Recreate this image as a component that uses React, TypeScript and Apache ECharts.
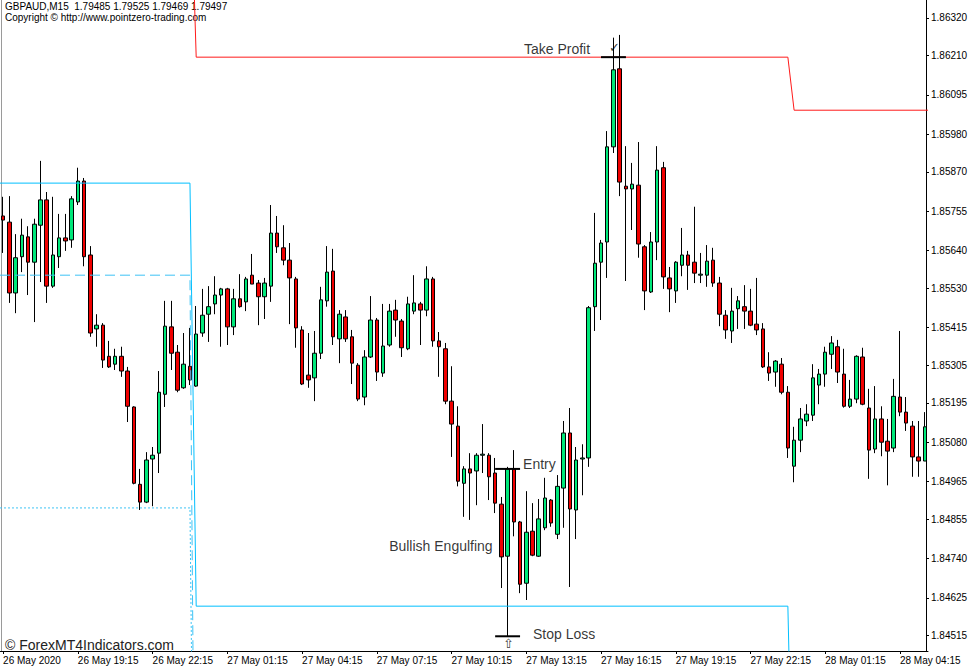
import React, { useEffect, useRef } from "react";
import * as echarts from "echarts";

// ---------- texts ----------
const symbolLine = "GBPAUD,M15  1.79485 1.79525 1.79469 1.79497";
const copyrightLine = "Copyright \u00a9 http://www.pointzero-trading.com";
const watermark = "\u00a9 ForexMT4Indicators.com";

// ---------- x axis tick labels (one every 12 bars of M15) ----------
const timeLabels = [
  "26 May 2020", "26 May 19:15", "26 May 22:15", "27 May 01:15", "27 May 04:15",
  "27 May 07:15", "27 May 10:15", "27 May 13:15", "27 May 16:15", "27 May 19:15",
  "27 May 22:15", "28 May 01:15", "28 May 04:15",
];
const barsPerLabel = 12;

// ---------- y axis tick labels ----------
const yTickLabels = [
  "1.86320", "1.86210", "1.86095", "1.85980", "1.85870", "1.85755", "1.85640", "1.85530",
  "1.85415", "1.85305", "1.85195", "1.85080", "1.84965", "1.84855", "1.84740", "1.84625", "1.84515",
];

// ---------- OHLC ----------
const opens = [
  1.85741, 1.85723, 1.85516, 1.85622, 1.8568, 1.85606, 1.85714, 1.85788, 1.85536, 1.85622,
  1.85677, 1.85671, 1.85782, 1.85843, 1.85627, 1.85411, 1.85422, 1.85331, 1.85308, 1.85331,
  1.85288, 1.85183, 1.84957, 1.84905, 1.85031, 1.85048, 1.8522, 1.85417, 1.85343, 1.85239,
  1.85302, 1.85244, 1.85399, 1.85454, 1.85484, 1.8551, 1.85528, 1.85417, 1.85499, 1.8549,
  1.85568, 1.85545, 1.85505, 1.85536, 1.85691, 1.85648, 1.85612, 1.85557, 1.85408, 1.85276,
  1.85268, 1.8534, 1.85493, 1.8558, 1.85382, 1.85446, 1.85388, 1.85305, 1.85212, 1.85329,
  1.85437, 1.85282, 1.85364, 1.85466, 1.85434, 1.85353, 1.85463, 1.85484, 1.85466, 1.85557,
  1.85376, 1.85353, 1.852, 1.85127, 1.8496, 1.85002, 1.84996, 1.85042, 1.85042, 1.8499,
  1.84899, 1.84747, 1.85002, 1.84847, 1.84668, 1.8482, 1.84747, 1.8483, 1.84911, 1.84811,
  1.84946, 1.85107, 1.84882, 1.85031, 1.85034, 1.85476, 1.85606, 1.85665, 1.85943, 1.86171,
  1.85828, 1.8582, 1.85831, 1.85651, 1.85519, 1.85665, 1.85882, 1.8556, 1.85522, 1.85597,
  1.85627, 1.85606, 1.85568, 1.85568, 1.85612, 1.85545, 1.85451, 1.85405, 1.8547, 1.85476,
  1.85463, 1.85425, 1.85411, 1.853, 1.85285, 1.85308, 1.85226, 1.8501, 1.85086, 1.85142,
  1.85159, 1.85247, 1.85279, 1.85337, 1.85359, 1.85279, 1.85185, 1.85206, 1.85329, 1.8518,
  1.8506, 1.85148, 1.85083, 1.85063, 1.85212, 1.85168, 1.85127, 1.85037, 1.85025,
];
const highs = [
  1.85797, 1.85799, 1.85688, 1.85733, 1.85711, 1.85733, 1.85902, 1.85811, 1.85797, 1.85747,
  1.85747, 1.85799, 1.85882, 1.85852, 1.85653, 1.85454, 1.85428, 1.85376, 1.85353, 1.85359,
  1.853, 1.85185, 1.85002, 1.85051, 1.85066, 1.85288, 1.85493, 1.85493, 1.85364, 1.85399,
  1.85414, 1.85478, 1.85528, 1.85536, 1.85565, 1.85531, 1.85531, 1.85528, 1.85571, 1.85563,
  1.8563, 1.85554, 1.8556, 1.85773, 1.85741, 1.85714, 1.85662, 1.85563, 1.85419, 1.85399,
  1.85405, 1.85534, 1.85653, 1.85645, 1.85466, 1.85466, 1.85408, 1.85311, 1.85349, 1.85507,
  1.85443, 1.85484, 1.85484, 1.85496, 1.8544, 1.85505, 1.85568, 1.8549, 1.85594, 1.85563,
  1.85402, 1.8537, 1.85302, 1.85185, 1.8501, 1.85048, 1.85048, 1.85133, 1.85048, 1.85034,
  1.8492, 1.85008, 1.85057, 1.8485, 1.84937, 1.84902, 1.84914, 1.84976, 1.84914, 1.84984,
  1.85142, 1.8518, 1.85066, 1.85074, 1.85478, 1.8575, 1.85671, 1.85989, 1.86262, 1.8627,
  1.85945, 1.85896, 1.85957, 1.85656, 1.85694, 1.85945, 1.85899, 1.85592, 1.85609, 1.85706,
  1.85639, 1.85768, 1.85633, 1.85656, 1.85648, 1.85563, 1.85466, 1.85531, 1.85507, 1.85539,
  1.85528, 1.8556, 1.85428, 1.85343, 1.8532, 1.85326, 1.85244, 1.85125, 1.8518, 1.85191,
  1.85308, 1.85294, 1.85359, 1.8539, 1.85379, 1.85353, 1.85262, 1.85334, 1.85356, 1.85236,
  1.85244, 1.85185, 1.85148, 1.85265, 1.85405, 1.85212, 1.85142, 1.85142, 1.85168,
];
const lows = [
  1.85633, 1.85487, 1.85457, 1.85577, 1.8551, 1.85431, 1.85548, 1.85487, 1.85531, 1.85589,
  1.85639, 1.85648, 1.85773, 1.85594, 1.85388, 1.85359, 1.85297, 1.85297, 1.85291, 1.85271,
  1.85139, 1.84957, 1.84882, 1.84902, 1.84893, 1.8499, 1.85183, 1.85291, 1.85226, 1.85236,
  1.85247, 1.85242, 1.85388, 1.85373, 1.85454, 1.85359, 1.85364, 1.85393, 1.85473, 1.85463,
  1.85542, 1.85422, 1.8544, 1.8549, 1.85633, 1.85597, 1.85425, 1.85356, 1.85247, 1.85239,
  1.852, 1.85323, 1.85476, 1.85364, 1.85311, 1.85373, 1.8525, 1.852, 1.85188, 1.85326,
  1.85259, 1.85271, 1.85359, 1.85388, 1.85329, 1.85349, 1.85454, 1.85364, 1.85448, 1.85359,
  1.85271, 1.85191, 1.85037, 1.84951, 1.84862, 1.84853, 1.84896, 1.8499, 1.84911, 1.84873,
  1.84654, 1.84513, 1.84805, 1.84639, 1.84619, 1.84747, 1.84745, 1.84823, 1.84833, 1.84797,
  1.8483, 1.84657, 1.84797, 1.84925, 1.85008, 1.85405, 1.85437, 1.8556, 1.85925, 1.85799,
  1.85551, 1.857, 1.85619, 1.85466, 1.85516, 1.85612, 1.85528, 1.8546, 1.85487, 1.85565,
  1.85525, 1.85545, 1.85545, 1.85534, 1.85534, 1.85419, 1.85382, 1.8537, 1.85411, 1.85411,
  1.85419, 1.85393, 1.85297, 1.85259, 1.85242, 1.8522, 1.85034, 1.84963, 1.85051, 1.85127,
  1.85142, 1.85191, 1.85242, 1.85294, 1.85253, 1.85181, 1.8518, 1.85194, 1.85188, 1.84973,
  1.85048, 1.85039, 1.84954, 1.85051, 1.85156, 1.85113, 1.84979, 1.84979, 1.85025,
];
const closes = [
  1.85729, 1.85516, 1.85619, 1.85685, 1.85606, 1.85717, 1.85788, 1.85536, 1.85627, 1.85677,
  1.85668, 1.85791, 1.85843, 1.85622, 1.85399, 1.85422, 1.8532, 1.853, 1.85331, 1.85288,
  1.85185, 1.8496, 1.84905, 1.85028, 1.85042, 1.85226, 1.85419, 1.8534, 1.85232, 1.85308,
  1.85262, 1.85396, 1.85451, 1.85476, 1.8551, 1.85528, 1.85417, 1.85499, 1.85476, 1.85557,
  1.85542, 1.85505, 1.85545, 1.85691, 1.85651, 1.85612, 1.8556, 1.85414, 1.8525, 1.85262,
  1.8534, 1.85496, 1.85577, 1.85388, 1.85454, 1.85382, 1.85311, 1.85206, 1.85329, 1.85437,
  1.85285, 1.85361, 1.85463, 1.85437, 1.85356, 1.85484, 1.85487, 1.85466, 1.85557, 1.85376,
  1.85359, 1.852, 1.85133, 1.84966, 1.85002, 1.8499, 1.85042, 1.85045, 1.84979, 1.84902,
  1.84745, 1.85002, 1.84847, 1.84665, 1.84817, 1.8475, 1.84856, 1.84917, 1.84844, 1.84951,
  1.85107, 1.84885, 1.85028, 1.85034, 1.85473, 1.85603, 1.85662, 1.85943, 1.86168, 1.8584,
  1.8582, 1.85834, 1.85659, 1.85522, 1.85665, 1.85875, 1.85563, 1.85528, 1.85606, 1.85627,
  1.85597, 1.85574, 1.85571, 1.85609, 1.85545, 1.85454, 1.85408, 1.85463, 1.85493, 1.85463,
  1.85422, 1.85408, 1.853, 1.85282, 1.85317, 1.85226, 1.85063, 1.85086, 1.85148, 1.85162,
  1.85268, 1.85279, 1.85343, 1.8537, 1.85285, 1.85185, 1.85206, 1.85331, 1.85191, 1.85057,
  1.85148, 1.8508, 1.85054, 1.85214, 1.85168, 1.85136, 1.85037, 1.85025, 1.85125,
];

// ---------- indicator levels: [bar index, price] ----------
const blueSolid = [[-0.5, 1.85837], [30, 1.85837], [31, 1.84601], [126, 1.84601], [127, 1.838]];
const blueDashed = [[-0.5, 1.85568], [30, 1.85568], [31, 1.833]];
const blueDotted = [[-0.5, 1.84888], [30, 1.84888], [31, 1.8317]];
const redTakeProfit = [[30, 1.868], [31, 1.86205], [126, 1.86205], [127, 1.8605], [148.5, 1.8605]];

// trade markers: [startBar, endBar, price]
const tpBar = [96, 100, 1.86205];
const entryBar = [79, 83, 1.85002];
const slBar = [79, 83, 1.84513];

// annotation texts anchored at [bar index, price]
const noteTexts = ["Take Profit", "Entry", "Bullish Engulfing", "Stop Loss"];
const noteBars = [83.55, 83.4, 61.9, 85.0];
const notePrices = [1.86229, 1.85016, 1.84777, 1.84519];
const markTexts = ["\u2713", "\u21e7"];
const markBars = [98, 81];
const markPrices = [1.86232, 1.84493];

const FONT = "'Liberation Sans', Arial, sans-serif";

export default function App() {
  const ref = useRef<HTMLDivElement>(null);

  useEffect(() => {
    if (!ref.current) return;
    const chart = echarts.init(ref.current, null, { renderer: "svg" });

    const n = opens.length;
    const categories = opens.map((_, i) => String(i));
    const candleData = opens.map((o, i) => [o, closes[i], lows[i], highs[i]]);
    const yTicks = yTickLabels.map((s) => parseFloat(s));

    const levelLine = (data: number[][], color: string, type: any, width = 1, z = 4) => ({
      type: "line",
      xAxisIndex: 1,
      yAxisIndex: 0,
      data,
      showSymbol: false,
      symbol: "none",
      clip: true,
      silent: true,
      z,
      lineStyle: { color, width, type },
    });

    const barLine = (b: number[]) =>
      levelLine([[b[0], b[2]], [b[1], b[2]]], "#000", "solid", 2, 6);

    const noteData = noteTexts.map((t, i) => ({
      value: [noteBars[i], notePrices[i]],
      name: t,
      label: { position: "right", distance: 0, fontSize: 14, fontFamily: FONT, color: "#000" },
    }));
    const markData = markTexts.map((t, i) => ({
      value: [markBars[i], markPrices[i]],
      name: t,
      label: {
        position: "right",
        distance: 0,
        offset: [-5, 0],
        fontSize: 13,
        fontFamily: "'DejaVu Sans', sans-serif",
        color: "#000",
      },
    }));

    const option: any = {
      animation: false,
      backgroundColor: "#fff",
      grid: {
        left: 0,
        top: 0,
        width: 928,
        height: 651,
        containLabel: false,
        outerBoundsMode: "none",
      },
      xAxis: [
        {
          type: "category",
          data: categories,
          boundaryGap: true,
          axisLine: { show: true, lineStyle: { color: "#000", width: 1 } },
          axisTick: { show: true, interval: barsPerLabel - 1, alignWithLabel: true, length: 3, lineStyle: { color: "#000" } },
          axisLabel: {
            interval: barsPerLabel - 1,
            align: "left",
            margin: 4,
            color: "#000",
            fontSize: 10,
            fontFamily: FONT,
            formatter: (_v: string, idx: number) =>
              idx % barsPerLabel === 0 ? timeLabels[idx / barsPerLabel] || "" : "",
          },
          splitLine: { show: false },
        },
        {
          type: "value",
          min: -0.5,
          max: n - 0.5,
          show: false,
        },
      ],
      yAxis: {
        type: "value",
        position: "right",
        min: 1.8447,
        max: 1.86372,
        offset: -2,
        axisLine: { show: true, onZero: false, lineStyle: { color: "#000", width: 1 } },
        axisTick: { show: true, length: 3, customValues: yTicks, lineStyle: { color: "#000" } },
        axisLabel: {
          customValues: yTicks,
          formatter: (v: number) => v.toFixed(5),
          color: "#000",
          fontSize: 10,
          fontFamily: FONT,
          margin: 5,
        },
        splitLine: { show: false },
      },
      series: [
        {
          type: "candlestick",
          xAxisIndex: 0,
          yAxisIndex: 0,
          data: candleData,
          barWidth: 4,
          z: 3,
          itemStyle: {
            color: "#00E87A",
            color0: "#F00000",
            borderColor: "#000",
            borderColor0: "#000",
            borderWidth: 1,
          },
        },
        levelLine(blueSolid, "#00BFFF", "solid"),
        levelLine(blueDashed, "#3DC3F5", [10, 5]),
        levelLine(blueDotted, "#3DC3F5", [2, 2]),
        levelLine(redTakeProfit, "#FF1A1A", "solid"),
        barLine(tpBar),
        barLine(entryBar),
        barLine(slBar),
        {
          type: "scatter",
          xAxisIndex: 1,
          yAxisIndex: 0,
          symbolSize: 1,
          silent: true,
          z: 7,
          itemStyle: { color: "rgba(0,0,0,0)" },
          label: { show: true, color: "#000", formatter: (p: any) => p.name },
          data: [...noteData, ...markData],
        },
      ],
      graphic: [
        {
          type: "line",
          shape: { x1: 1.5, y1: 0, x2: 1.5, y2: 651 },
          style: { stroke: "#9a9a9a", lineWidth: 1 },
          silent: true,
        },
        {
          type: "text",
          left: 5,
          top: 1,
          style: { text: symbolLine, fontSize: 10, fontFamily: FONT, fill: "#000" },
          silent: true,
        },
        {
          type: "text",
          left: 5,
          top: 12,
          style: { text: copyrightLine, fontSize: 10, fontFamily: FONT, fill: "#000" },
          silent: true,
        },
        {
          type: "text",
          left: 5,
          top: 638,
          style: { text: watermark, fontSize: 14, fontFamily: FONT, fill: "#222" },
          silent: true,
        },
      ],
    };

    chart.setOption(option);
    return () => chart.dispose();
  }, []);

  return (
    <div
      ref={ref}
      style={{ position: "absolute", left: 0, top: 0, width: 977, height: 672, background: "#fff" }}
    />
  );
}
